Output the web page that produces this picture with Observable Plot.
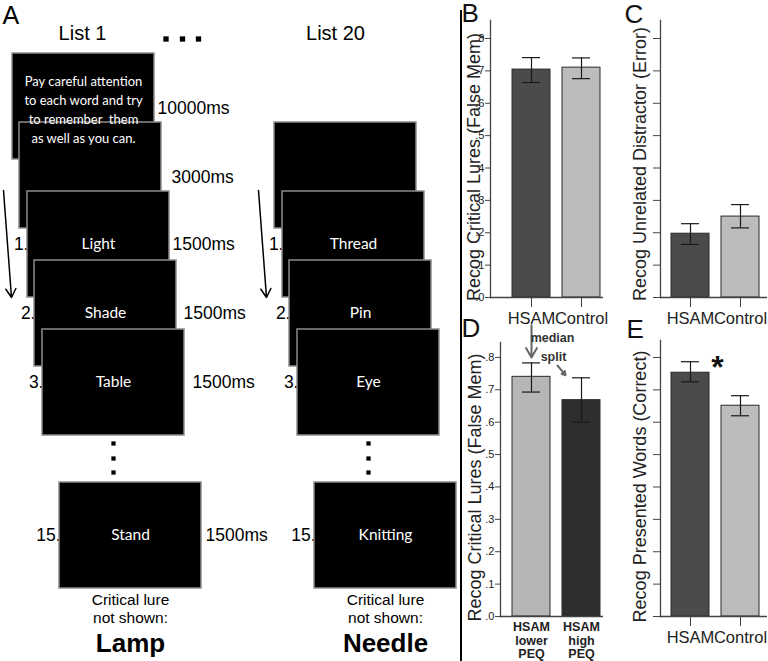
<!DOCTYPE html>
<html><head><meta charset="utf-8">
<script src="https://cdn.jsdelivr.net/npm/d3@7"></script>
<script src="https://cdn.jsdelivr.net/npm/@observablehq/plot@0.6"></script>
<style>
body{margin:0;background:#fff;}
#fig{position:relative;width:768px;height:661px;overflow:hidden;background:#fff;}
#fig svg{position:absolute;overflow:visible;background:transparent;}
.divider{position:absolute;left:460px;top:10px;width:2px;height:651px;background:#000;}
</style></head><body><div id="fig"><div class="divider"></div></div>
<script>
// ---------------- data ----------------
const groups = ["HSAM", "Control"];
const critLures = [0.704, 0.710];
const critLuresLo = [0.664, 0.676];
const critLuresHi = [0.741, 0.740];
const unrelated = [0.197, 0.250];
const unrelatedLo = [0.164, 0.215];
const unrelatedHi = [0.228, 0.287];
const presented = [0.753, 0.651];
const presentedLo = [0.725, 0.620];
const presentedHi = [0.787, 0.682];
const peqGroups = ["HSAM\nlower\nPEQ", "HSAM\nhigh\nPEQ"];
const peqLures = [0.740, 0.668];
const peqLo = [0.693, 0.600];
const peqHi = [0.783, 0.737];
const yTicks = [0, 0.1, 0.2, 0.3, 0.4, 0.5, 0.6, 0.7, 0.8];
const yTickLabels = [".0", ".1", ".2", ".3", ".4", ".5", ".6", ".7", ".8"];
const groupColors = ["#4b4b4b", "#bcbcbc"];
const peqColors = ["#b6b6b6", "#2e2e2e"];

// panel A content
const listTitles = ["List 1", "List 20"];
const listWords = [["", "", "Light", "Shade", "Table", "Stand"], [null, "", "Thread", "Pin", "Eye", "Knitting"]];
const itemNumbers = ["", "", "1.", "2.", "3.", "15."];
const durations = ["10000ms", "3000ms", "1500ms", "1500ms", "1500ms", "1500ms"];
const instruction = "Pay careful attention\nto each word and try\nto remember  them\nas well as you can.";
const lures = ["Lamp", "Needle"];
// median split annotation (D panel, data units)
const splitArrows = [{x1: 0, y1: 0.899, x2: 0, y2: 0.800}, {x1: 0.52, y1: 0.775, x2: 0.68, y2: 0.745}];
const splitWords = [{x: 0.42, y: 0.859, t: "median"}, {x: 0.44, y: 0.800, t: "split"}];

// ---------------- layout (px) ----------------
const slideW = 142, slideH = 106;
const slotLeft = [12, 19, 27, 34, 42, 59];
const slotTop = [53, 122, 191, 260, 329, 482];
const listShift = [0, 255];
const durX = [157, 171, 172, 183, 192, 205];
const ARIAL = "'Liberation Sans', Arial, sans-serif";
const fig = document.getElementById("fig");
function place(svg, left, top) { svg.style.left = left + "px"; svg.style.top = top + "px"; fig.appendChild(svg); }

// ---------------- panel A ----------------
const slides = [];
listWords.forEach((words, L) => words.forEach((w, s) => {
  if (w === null) return;
  const x1 = slotLeft[s] + listShift[L], y1 = slotTop[s];
  slides.push({L, s, w, x1, y1, x2: x1 + slideW, y2: y1 + slideH, cx: x1 + slideW / 2, ty: y1 + 53});
}));
const numLabels = slides.filter(d => itemNumbers[d.s]).map(d => ({x: d.x1 + 1, y: d.ty, t: itemNumbers[d.s]}));
const durLabels = slides.filter(d => d.L === 0).map(d => ({x: durX[d.s], y: d.s < 2 ? d.y1 + 55 : d.ty, t: durations[d.s]}));
const tableSlides = slides.filter(d => d.s === 4);
const vDots = tableSlides.flatMap(d => [443, 458, 472].map(y => ({x: d.cx, y})));
const lastSlides = slides.filter(d => d.s === 5);
const listArrows = listShift.map(sh => ({x1: 3 + sh, y1: 190, x2: 11 + sh, y2: 297}));

const pA = Plot.plot({
  width: 460, height: 661, margin: 0,
  x: {domain: [0, 460], range: [0, 460], axis: null},
  y: {domain: [0, 661], range: [0, 661], axis: null},
  style: {fontFamily: ARIAL, color: "#000", background: "transparent"},
  marks: [
    Plot.text(["A"], {x: 2, y: 6, fontSize: 25, lineAnchor: "top", textAnchor: "start"}),
    Plot.text(listTitles, {x: [82, 335], y: 33, fontSize: 20}),
    Plot.dot([165.5, 182, 198], {x: d => d, y: 38.5, symbol: "square", r: 3, fill: "#000", stroke: null}),
    Plot.text(numLabels, {x: "x", y: "y", text: "t", textAnchor: "end", fontSize: 17.5}),
    Plot.rect(slides, {x1: "x1", x2: "x2", y1: "y1", y2: "y2", fill: "#000", stroke: "#8c8c8c", strokeWidth: 1.5}),
    Plot.text([instruction], {x: slides[0].cx, y: 108, fill: "#fff", fontSize: 13, lineHeight: 1.44, fontFamily: "Lato, sans-serif"}),
    Plot.text(slides.filter(d => d.w), {x: "cx", y: "ty", text: "w", fill: "#fff", fontSize: 15.5, fontFamily: "Lato, sans-serif"}),
    Plot.text(durLabels, {x: "x", y: "y", text: "t", textAnchor: "start", fontSize: 17.5}),
    Plot.dot(vDots, {x: "x", y: "y", symbol: "square", r: 2.4, fill: "#000", stroke: null}),
    Plot.arrow(listArrows, {x1: "x1", y1: "y1", x2: "x2", y2: "y2", stroke: "#000", strokeWidth: 1.5, headLength: 10}),
    Plot.text(lastSlides, {x: "cx", y: 600, text: () => "Critical lure", fontSize: 15.5}),
    Plot.text(lastSlides, {x: "cx", y: 618, text: () => "not shown:", fontSize: 15.5}),
    Plot.text(lastSlides, {x: "cx", y: 643, text: d => lures[d.L], fontSize: 26, fontWeight: "bold"})
  ]
});
place(pA, 0, 0);

// ---------------- bar panels ----------------
function groupPanel({vals, lo, hi, title, letter, tickLabels, width, height, mL, mR, mT, mB, ymax, inL, inR, tDx, tDy, lDx, lDy, extra = []}) {
  const rows = groups.map((g, i) => ({g, v: vals[i], lo: lo[i], hi: hi[i]}));
  return Plot.plot({
    width, height, marginLeft: mL, marginRight: mR, marginTop: mT, marginBottom: mB,
    style: {fontFamily: ARIAL, color: "#222", background: "transparent"},
    x: {domain: groups, paddingInner: 0.25, paddingOuter: 0, insetLeft: inL, insetRight: inR},
    y: {domain: [0, ymax]},
    color: {domain: groups, range: groupColors},
    marks: [
      Plot.barY(rows, {x: "g", y: "v", fill: "g", stroke: "#2a2a2a", strokeWidth: 1}),
      Plot.ruleX(rows, {x: "g", y1: "lo", y2: "hi", stroke: "#1a1a1a", strokeWidth: 1.2}),
      Plot.tickY(rows, {x: "g", y: "lo", insetLeft: 10, insetRight: 10, stroke: "#1a1a1a", strokeWidth: 1.2}),
      Plot.tickY(rows, {x: "g", y: "hi", insetLeft: 10, insetRight: 10, stroke: "#1a1a1a", strokeWidth: 1.2}),
      Plot.ruleY([0], {stroke: "#444", strokeWidth: 1.3}),
      Plot.frame({anchor: "left", stroke: "#444", strokeWidth: 1.3}),
      Plot.axisY({ticks: yTicks, tickSize: tickLabels ? 5 : 7, tickPadding: 1, fontSize: 11,
        tickFormat: tickLabels ? (d => yTickLabels[yTicks.indexOf(d)]) : (() => ""), label: null, stroke: "#444"}),
      Plot.axisX({tickSize: 10, tickPadding: 5, fontSize: 16.5, label: null, stroke: "#444"}),
      Plot.text([title], {frameAnchor: "left", dx: tDx, dy: tDy, rotate: -90, fontSize: 18, fill: "#222", textAnchor: "middle", lineAnchor: "middle"}),
      Plot.text([letter], {frameAnchor: "top-left", dx: lDx, dy: lDy, fontSize: 26, lineAnchor: "top", textAnchor: "start", fill: "#111"}),
      ...extra
    ]
  });
}

place(groupPanel({vals: critLures, lo: critLuresLo, hi: critLuresHi, title: "Recog Critical Lures (False Mem)", letter: "B",
  tickLabels: true, width: 175, height: 340, mL: 60, mR: 2, mT: 20, mB: 43, ymax: 0.8556,
  inL: 21, inR: 3, tDx: -16, tDy: 8, lDx: -29, lDy: -17}), 430, 0);

place(groupPanel({vals: unrelated, lo: unrelatedLo, hi: unrelatedHi, title: "Recog Unrelated Distractor (Error)", letter: "C",
  tickLabels: false, width: 163, height: 340, mL: 55, mR: 1, mT: 20, mB: 43, ymax: 0.8556,
  inL: 11, inR: 8, tDx: -20, tDy: 5, lDx: -36, lDy: -16}), 605, 0);

place(groupPanel({vals: presented, lo: presentedLo, hi: presentedHi, title: "Recog Presented Words (Correct)", letter: "E",
  tickLabels: false, width: 163, height: 346, mL: 55, mR: 1, mT: 25, mB: 45, ymax: 0.8525,
  inL: 11, inR: 8, tDx: -20, tDy: 8, lDx: -34, lDy: -21,
  extra: [Plot.text(["*"], {x: ["HSAM"], y: 0.80, dx: 27, dy: 10, fontSize: 32, fontWeight: "bold", fill: "#111"})]}), 605, 315);

// panel D (median split)
const dRows = peqGroups.map((g, i) => ({i, g, v: peqLures[i], lo: peqLo[i], hi: peqHi[i]}));
const pD = Plot.plot({
  width: 175, height: 346, marginLeft: 70, marginRight: 2, marginTop: 27, marginBottom: 45,
  style: {fontFamily: ARIAL, color: "#222", background: "transparent"},
  x: {domain: [0, 1], insetLeft: 31, insetRight: 22},
  y: {domain: [0, 0.846]},
  color: {domain: peqGroups, range: peqColors},
  marks: [
    Plot.rectY(dRows, {x1: d => d.i - 0.38, x2: d => d.i + 0.38, y: "v", fill: "g", stroke: "#2a2a2a", strokeWidth: 1}),
    Plot.ruleX(dRows, {x: "i", y1: "lo", y2: "hi", stroke: "#1a1a1a", strokeWidth: 1.2}),
    Plot.ruleY(dRows, {x1: d => d.i - 0.18, x2: d => d.i + 0.18, y: "lo", stroke: "#1a1a1a", strokeWidth: 1.2}),
    Plot.ruleY(dRows, {x1: d => d.i - 0.18, x2: d => d.i + 0.18, y: "hi", stroke: "#1a1a1a", strokeWidth: 1.2}),
    Plot.ruleY([0], {stroke: "#444", strokeWidth: 1.3}),
    Plot.frame({anchor: "left", stroke: "#444", strokeWidth: 1.3}),
    Plot.axisY({ticks: yTicks, tickSize: 5, tickPadding: 1, fontSize: 11, tickFormat: d => yTickLabels[yTicks.indexOf(d)], label: null, stroke: "#444"}),
    Plot.axisX({ticks: [0, 1], tickFormat: i => peqGroups[i], tickSize: 0, tickPadding: 5, fontSize: 12.5, fontWeight: "bold", lineHeight: 1.08, label: null}),
    Plot.text(["Recog Critical Lures (False Mem)"], {frameAnchor: "left", dx: -25, dy: 8, rotate: -90, fontSize: 18, fill: "#222", textAnchor: "middle", lineAnchor: "middle"}),
    Plot.text(["D"], {frameAnchor: "top-left", dx: -39, dy: -24, fontSize: 26, lineAnchor: "top", textAnchor: "start", fill: "#111"}),
    Plot.arrow(splitArrows, {x1: "x1", y1: "y1", x2: "x2", y2: "y2", stroke: "#666", strokeWidth: 2, headLength: 8}),
    Plot.text(splitWords, {x: "x", y: "y", text: "t", fontSize: 12.5, fontWeight: "bold", fill: "#333"})
  ]
});
place(pD, 430, 315);
</script></body></html>
